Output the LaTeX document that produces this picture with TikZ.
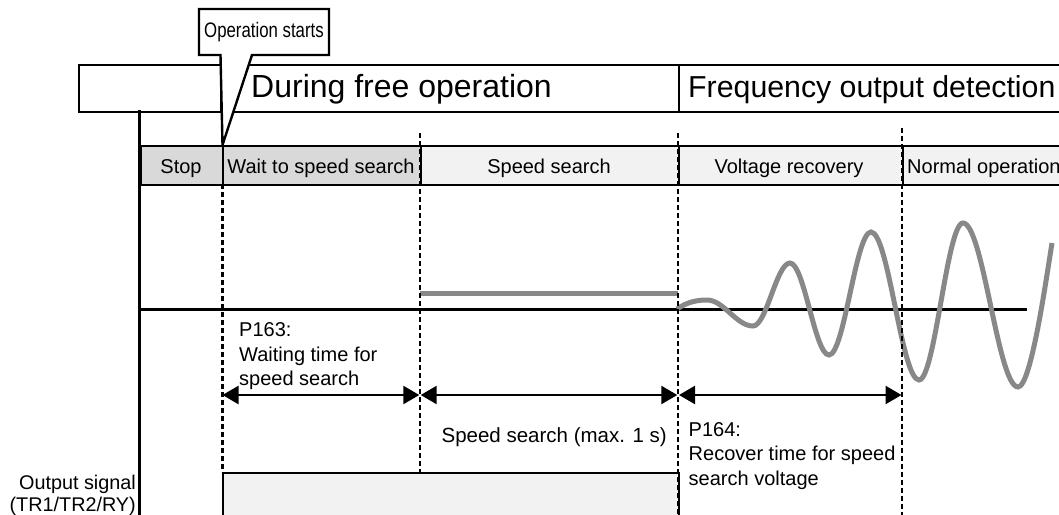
\documentclass[tikz,border=0pt]{standalone}
\usepackage{fontspec}
\setmainfont{Liberation Sans}
\newfontfamily\narrowf{Liberation Sans}[FakeStretch=0.8]
\usetikzlibrary{arrows.meta}
\definecolor{cellgray}{HTML}{D9D9D9}
\definecolor{celllight}{HTML}{F2F2F2}
\definecolor{wavegray}{HTML}{888888}
\tikzset{
  frame/.style={draw=black, line width=2.4pt},
  boxnode/.style={frame, anchor=north west, inner sep=0pt},
  cellbox/.style={boxnode, minimum height=39pt},
  celltext/.style={font=\fontsize{20}{22}\selectfont, inner sep=0pt, text height=14pt, text depth=0pt},
  bigtext/.style={inner sep=0pt, anchor=base west},
  vdash/.style={line width=2.6pt, dash pattern=on 5pt off 3pt},
  span/.style={line width=2.4pt, {Triangle[length=16pt,width=18pt]}-{Triangle[length=16pt,width=18pt]}},
  wave/.style={draw=wavegray, line width=5pt},
  small/.style={font=\fontsize{20}{24.5}\selectfont, inner sep=0pt, align=left},
}
\begin{document}
\begin{tikzpicture}[x=1pt,y=-1pt]
\useasboundingbox (0,0) rectangle (1059,514);
\clip (0,0) rectangle (1059,514);

% header
\node[boxnode, minimum width=142pt, minimum height=46.5pt] (blank) at (78,64) {};
\node[boxnode, minimum width=458pt, minimum height=46.5pt] (free) at (220,64) {};
\node[boxnode, minimum width=420pt, minimum height=46.5pt] (freq) at (678,64) {};
\node[bigtext, font=\fontsize{32}{32}\selectfont] (freet) at (251,97) {During free operation};
\node[bigtext, font=\fontsize{30.3}{32}\selectfont] (freqt) at (688,97) {Frequency output detection};

% vertical axis
\coordinate (axtop) at (139.5,110);
\coordinate (axbot) at (139.5,520);
\draw[line width=2.8pt] (axtop) -- (axbot);

% state row
\node[cellbox, fill=cellgray, minimum width=82.5pt] (stop) at (139.5,145) {};
\node[cellbox, fill=cellgray, minimum width=198pt] (wait) at (222,145) {};
\node[cellbox, fill=celllight, minimum width=258pt] (ss) at (420,145) {};
\node[cellbox, fill=celllight, minimum width=224pt] (vr) at (678,145) {};
\node[cellbox, fill=celllight, minimum width=170pt] (no) at (902,145) {};
\node[celltext] (stopt) at (181,166) {Stop};
\node[celltext] (waitt) at (321,166) {Wait to speed search};
\node[celltext] (sst) at (549,166) {Speed search};
\node[celltext] (vrt) at (789,166) {Voltage recovery};
\node[celltext, anchor=west] (not) at (907,166) {Normal operation};

% callout
\draw[frame, fill=white, miter limit=2] (199,9) -- (329,9) -- (329,55) -- (252,55) -- (222.5,145) -- (220.5,55) -- (199,55) -- cycle;
\node[font=\narrowf\fontsize{21}{22}\selectfont, inner sep=0pt] (opstart) at (264,32) {Operation starts};

% output signal box
\node[boxnode, fill=celllight, minimum width=456.5pt, minimum height=60pt] (out) at (221.5,472) {};

% zero axis
\coordinate (z0) at (139.5,309.5);
\coordinate (z1) at (1026.5,309.5);
\draw[line width=2.2pt] (z0) -- (z1);

% speed search level
\coordinate (g0) at (420,293);
\coordinate (g1) at (678,293);
\draw[wave] (g0) -- (g1);

% output waveform
\draw[wave] (677,309) .. controls (687,302) and (697,300) .. (707,300)
  .. controls (723.7,300) and (736.3,326) .. (753,326)
  .. controls (766.5,326) and (776.5,263) .. (790,263)
  .. controls (804.2,263) and (814.8,355) .. (829,355)
  .. controls (844.3,355) and (855.7,232) .. (871,232)
  .. controls (888.5,232) and (901.5,380) .. (919,380)
  .. controls (935,380) and (947,223) .. (963,223)
  .. controls (983,223) and (998,387) .. (1018,387)
  .. controls (1031,387) and (1046,280) .. (1052,243);

% dashed time markers
\coordinate (d1a) at (222.5,184); \coordinate (d1b) at (222.5,472);
\coordinate (d2a) at (420,133);   \coordinate (d2b) at (420,472);
\coordinate (d3a) at (678,133);   \coordinate (d3b) at (678,520);
\coordinate (d4a) at (902,128);   \coordinate (d4b) at (902,520);
\draw[vdash] (d1a) -- (d1b);
\draw[vdash] (d2a) -- (d2b);
\draw[vdash] (d3a) -- (d3b);
\draw[vdash] (d4a) -- (d4b);

% time spans
\coordinate (a1) at (222.5,395); \coordinate (a2) at (419.3,395);
\coordinate (b1) at (420.7,395); \coordinate (b2) at (677.3,395);
\coordinate (c1) at (679,395);   \coordinate (c2) at (901.5,395);
\draw[span] (a1) -- (a2);
\draw[span] (b1) -- (b2);
\draw[span] (c1) -- (c2);

% labels
\node[small, anchor=north west] (p163) at (239,322.5) {P163:\\Waiting time for\\speed search};
\node[font=\fontsize{20.5}{24}\selectfont, inner sep=0pt, anchor=base east] (ssmax) at (667,442) {Speed search (max. 1 s)};
\node[small, anchor=north west] (p164) at (688.5,422) {P164:\\Recover time for speed\\search voltage};
\node[font=\fontsize{19.8}{21.5}\selectfont, inner sep=0pt, align=right, anchor=north east] (outsig) at (136,475) {Output signal\\(TR1/TR2/RY)};
\end{tikzpicture}
\end{document}
